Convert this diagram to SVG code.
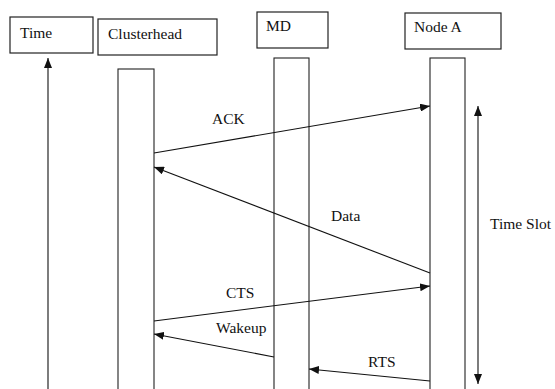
<svg xmlns="http://www.w3.org/2000/svg" width="555" height="389" viewBox="0 0 555 389">
<style>
.box{fill:#fff;stroke:#222;stroke-width:1.2}
.bar{fill:#fff;stroke:#222;stroke-width:1.1}
.t{font-family:'Liberation Serif',serif;font-size:15.5px;fill:#111}
.c{stroke:#111;stroke-width:1.1;fill:none;marker-end:url(#ah)}
</style>
<defs>
<marker id="ah" markerWidth="10" markerHeight="8" refX="10" refY="4" orient="auto" markerUnits="userSpaceOnUse">
<path d="M0,0 L10,4 L0,8 Z" fill="#111"/>
</marker>
<marker id="ahs" markerWidth="10" markerHeight="8" refX="0" refY="4" orient="auto" markerUnits="userSpaceOnUse">
<path d="M10,0 L0,4 L10,8 Z" fill="#111"/>
</marker>
</defs>
<rect width="555" height="389" fill="#fff"/>
<g id="time">
<rect class="box" x="10" y="17" width="83" height="36"/>
<text class="t" x="20" y="38">Time</text>
</g>
<g id="clusterhead">
<rect class="box" x="98" y="19" width="119" height="36"/>
<text class="t" x="108" y="39">Clusterhead</text>
<rect class="bar" x="118" y="69" width="36" height="330"/>
</g>
<g id="md">
<rect class="box" x="257" y="12" width="71" height="36"/>
<text class="t" x="266" y="31">MD</text>
<rect class="bar" x="274" y="58" width="35" height="340"/>
</g>
<g id="nodeA">
<rect class="box" x="405" y="13" width="96" height="36"/>
<text class="t" x="414" y="32">Node A</text>
<rect class="bar" x="430" y="58" width="35" height="340"/>
</g>
<g id="timeslot">
<text class="t" x="490" y="229">Time Slot</text>
</g>
<g id="connectors">
<line class="c" x1="48" y1="392" x2="48" y2="58"/>
<line class="c" x1="478" y1="106" x2="478" y2="384" style="marker-start:url(#ahs)"/>
<line class="c" x1="154" y1="153" x2="430" y2="106"/>
<line class="c" x1="430" y1="273" x2="154" y2="167"/>
<line class="c" x1="154" y1="321" x2="430" y2="286"/>
<line class="c" x1="274" y1="357" x2="154" y2="334"/>
<line class="c" x1="430" y1="381" x2="309" y2="369"/>
</g>
<g id="labels">
<text class="t" x="212" y="124">ACK</text>
<text class="t" x="331" y="221">Data</text>
<text class="t" x="226" y="298">CTS</text>
<text class="t" x="216" y="333">Wakeup</text>
<text class="t" x="368" y="367">RTS</text>
</g>
</svg>
